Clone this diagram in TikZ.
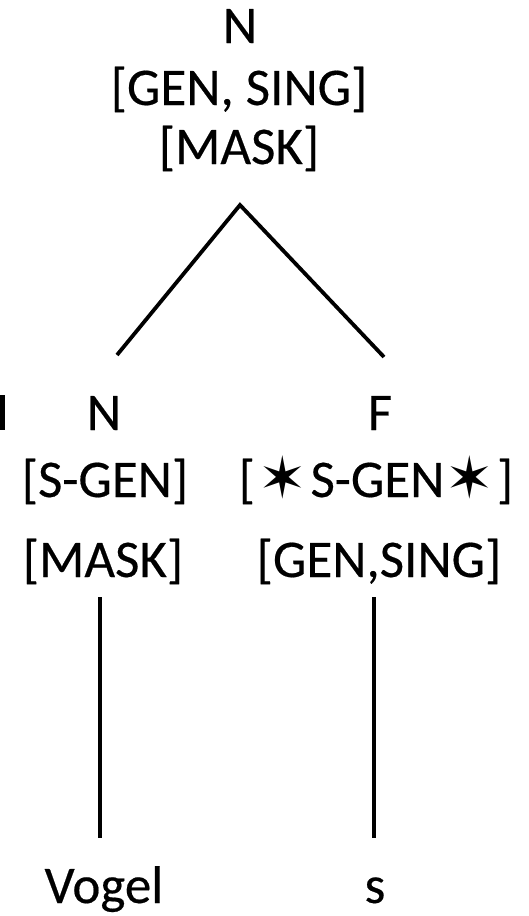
\documentclass[tikz,border=0pt]{standalone}
\usepackage{fontspec}
\setmainfont{Carlito}[FakeBold=0.35]
\newfontfamily\symfont{DejaVu Sans}
\newcommand{\sixstar}{\raisebox{-1pt}{\symfont\fontsize{58}{58}\selectfont ✶}}
\begin{document}
\begin{tikzpicture}[x=1pt,y=-1pt,
  lbl/.style={anchor=base,inner sep=0pt,font=\fontsize{53}{60}\selectfont},
  edge/.style={line width=3.8pt,line cap=butt}]
\useasboundingbox (0,0) rectangle (529,916);
% top node
\node[lbl] (topN) at (240,43) {N};
\node[lbl] (topF1) at (239,105) {[GEN, SING]};
\node[lbl] (topF2) at (239,164) {[MASK]};
% left daughter
\node[lbl] (lN) at (104,430) {N};
\node[lbl] (lF1) at (105,497) {[S-GEN]};
\node[lbl] (lF2) at (103,577) {[MASK]};
% right daughter
\node[lbl] (rF) at (380,430) {F};
\node[lbl] (rF1) at (376,497) {[\hspace{4pt}\sixstar\hspace{3pt}S-GEN\hspace{1pt}\sixstar\hspace{3pt}]};
\node[lbl] (rF2) at (379,577) {[GEN,SING]};
% leaves
\node[lbl] (vogel) at (104,903) {Vogel};
\node[lbl] (sleaf) at (375,903) {s};
% connector end points
\coordinate (apex) at (240,205);
\coordinate (lend) at (117,355);
\coordinate (rend) at (384,357);
\coordinate (l1) at (100,597);
\coordinate (l2) at (100,838);
\coordinate (r1) at (374,597);
\coordinate (r2) at (374,838);
\draw[edge,line join=miter] (lend) -- (apex) -- (rend);
\draw[edge] (l1) -- (l2);
\draw[edge] (r1) -- (r2);
% cropped fragment at left edge
\coordinate (fa) at (2.5,395);
\coordinate (fb) at (2.5,430);
\draw[line width=5pt] (fa) -- (fb);
\end{tikzpicture}
\end{document}
